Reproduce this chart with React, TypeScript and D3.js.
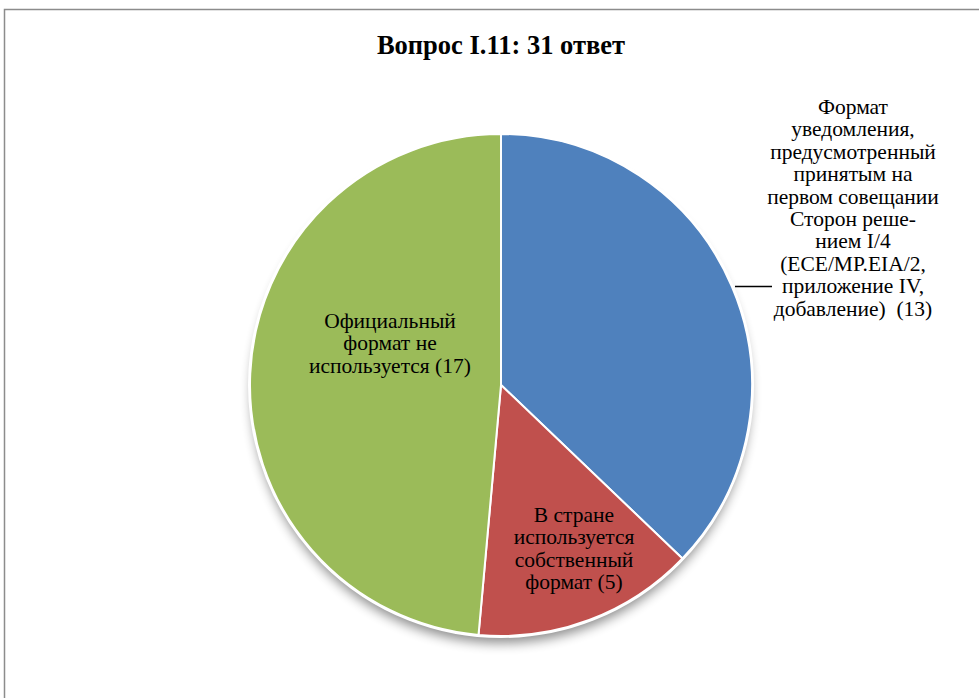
import React from "react";
import * as d3 from "d3";

const categories = [
  "Формат уведомления, предусмотренный принятым на первом совещании Сторон решением I/4 (ECE/MP.EIA/2, приложение IV, добавление)",
  "В стране используется собственный формат",
  "Официальный формат не используется",
];
const values = [13, 5, 17];
const colors = ["#4F81BD", "#C0504D", "#9BBB59"];
const labelLines = [
  ["Формат", "уведомления,", "предусмотренный", "принятым на", "первом совещании", "Сторон реше-", "нием I/4", "(ECE/MP.EIA/2,", "приложение IV,", "добавление)  (13)"],
  ["В стране", "используется", "собственный", "формат (5)"],
  ["Официальный", "формат не", "используется (17)"],
];
const title = "Вопрос I.11: 31 ответ";

const W = 979, H = 698;
const cx = 501, cy = 385, R = 251;
const font = "'Liberation Serif', 'Times New Roman', serif";

export default function App() {
  const pie = d3.pie<number>().sort(null).value((d) => d);
  const arcs = pie(values);
  const arcGen = d3.arc<d3.PieArcDatum<number>>().innerRadius(0).outerRadius(R);
  const lh = 22.4;
  const labelPos: [number, number][] = [
    [853, 109],
    [574, 517],
    [390, 323],
  ];
  return (
    <svg width={W} height={H} style={{ position: "absolute", left: 0, top: 0, background: "#fff" }}>
      <defs>
        <filter id="blur" x="-30%" y="-30%" width="160%" height="160%">
          <feGaussianBlur stdDeviation="6" />
        </filter>
      </defs>
      <rect x={4.5} y={9.5} width={W} height={H} fill="#fff" stroke="#8c8c8c" strokeWidth={1.5} />
      <text x={501} y={54} textAnchor="middle" fontFamily={font} fontWeight="bold" fontSize={26.5}>
        {title}
      </text>
      <circle cx={cx} cy={cy + 9} r={R - 2} fill="#000" opacity={0.45} filter="url(#blur)" />
      <g transform={`translate(${cx},${cy})`}>
        {arcs.map((a, i) => (
          <path key={i} d={arcGen(a) || ""} fill={colors[i]} stroke="#fff" strokeWidth={2} />
        ))}
        <circle r={R + 1} fill="none" stroke="#fff" strokeWidth={2} />
      </g>
      <line x1={735} y1={286.5} x2={772} y2={286.5} stroke="#000" strokeWidth={1.5} />
      {labelLines.map((lines, i) => (
        <text key={i} textAnchor="middle" fontFamily={font} fontSize={21.5} fill="#000">
          {lines.map((l, j) => (
            <tspan key={j} x={labelPos[i][0]} y={labelPos[i][1] + j * lh} dominantBaseline="middle" xmlSpace="preserve">
              {l}
            </tspan>
          ))}
        </text>
      ))}
    </svg>
  );
}
